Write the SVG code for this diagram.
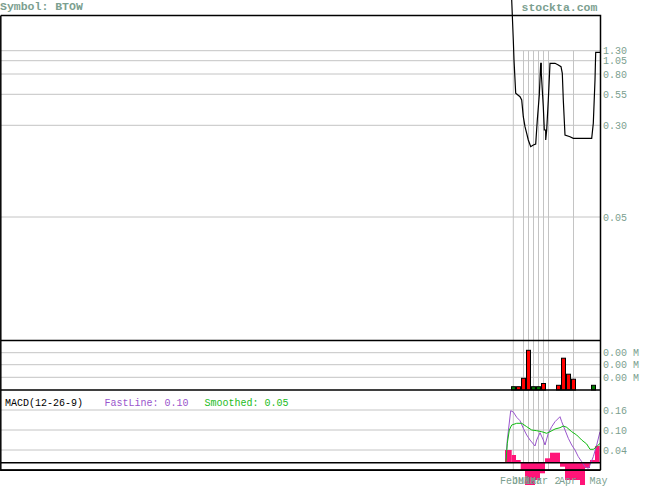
<svg xmlns="http://www.w3.org/2000/svg" width="655" height="486" viewBox="0 0 655 486">
<style>
.t{font-family:"Liberation Mono","DejaVu Sans Mono",monospace;font-size:10px;fill:#7c9f90}
.h{font-family:"Liberation Mono","DejaVu Sans Mono",monospace;font-size:11.5px;font-weight:bold;fill:#7c9f90}
.g{stroke:#c4c4c4;stroke-width:1;fill:none}
.b{stroke:#000;stroke-width:1.5;fill:none}
.vr{fill:#ff0000;stroke:#000;stroke-width:1}
.vg{fill:#007a00;stroke:#000;stroke-width:1}
.hist{fill:#ff1478}
</style>
<rect x="0" y="0" width="655" height="486" fill="#fff"/>
<text class="h" x="0" y="10">Symbol: BTOW</text>
<text class="h" x="521.5" y="11">stockta.com</text>
<g id="grid">
<path class="g" d="M1 50.7H600M1 60.7H600M1 74H600M1 94.3H600M1 125.3H600M1 217H600M1 352.7H600M1 364.7H600M1 377.3H600M1 410H600M1 430H600M1 450H600"/>
<path class="g" d="M513.3 50.7V470M523.5 50.7V470M528.5 50.7V470M533.5 50.7V470M538.5 50.7V470M543.5 50.7V470M548.5 50.7V470M573.5 50.7V470"/>
</g>
<g id="price-labels">
<text class="t" x="603" y="54">1.30</text>
<text class="t" x="603" y="64">1.05</text>
<text class="t" x="603" y="77.5">0.80</text>
<text class="t" x="603" y="98">0.55</text>
<text class="t" x="603" y="129">0.30</text>
<text class="t" x="603" y="221">0.05</text>
<text class="t" x="603" y="356">0.00 M</text>
<text class="t" x="603" y="368">0.00 M</text>
<text class="t" x="603" y="381">0.00 M</text>
<text class="t" x="603" y="414">0.16</text>
<text class="t" x="603" y="434">0.10</text>
<text class="t" x="603" y="453.5">0.04</text>
</g>
<g id="price">
<path d="M511.7 0L513.3 40L514 60L515.7 93.3L520 96.7L521.7 100L523.3 116.7L525 126.7L526.7 133.3L528.3 140L530.7 146.7L533.3 145L535.7 144L537.3 120L539.3 95L540.7 63.3L541.3 63.3L541.3 73.3L543.3 106.7L544.3 130L545.7 130L545.7 140L546.7 130L548.3 100L550 63.3L555 63.3L558.3 65L561 66.7L562.3 73.3L563.3 100L565 135L570 136.7L573.3 138.3L591.7 138.3L593.3 123.3L595 80L595.7 52.3L600 52.3" fill="none" stroke="#000" stroke-width="1.2"/>
</g>
<g id="volume">
<rect class="vg" x="511.5" y="386.7" width="4" height="3.3"/>
<rect class="vr" x="516.5" y="386.7" width="4" height="3.3"/>
<rect class="vr" x="521.5" y="378.3" width="4" height="11.7"/>
<rect class="vr" x="526.5" y="350.3" width="4" height="39.7"/>
<rect class="vg" x="531.5" y="386.7" width="4" height="3.3"/>
<rect class="vg" x="536.5" y="386.7" width="4" height="3.3"/>
<rect class="vr" x="541.5" y="383.5" width="4" height="6.5"/>
<rect class="vr" x="556.5" y="385.3" width="4" height="4.7"/>
<rect class="vr" x="561.5" y="358.2" width="4" height="31.8"/>
<rect class="vr" x="566.5" y="374.2" width="4" height="15.8"/>
<rect class="vr" x="571.5" y="379.2" width="4" height="10.8"/>
<rect class="vg" x="591.5" y="385.3" width="4" height="4.7"/>
</g>
<g id="macd-hist">
<rect class="hist" x="505" y="450" width="6.7" height="12.7"/>
<rect class="hist" x="511.7" y="455" width="4.3" height="7.7"/>
<rect class="hist" x="516" y="460" width="4.7" height="2.7"/>
<rect class="hist" x="520.7" y="462.7" width="4.3" height="7.3"/>
<rect class="hist" x="525" y="462.7" width="10" height="22.3"/>
<rect class="hist" x="535" y="462.7" width="5" height="17.3"/>
<rect class="hist" x="540" y="462.7" width="5" height="10.6"/>
<rect class="hist" x="545" y="458.3" width="5" height="4.4"/>
<rect class="hist" x="550" y="452.7" width="10" height="10"/>
<rect class="hist" x="560" y="462.7" width="5" height="4"/>
<rect class="hist" x="565" y="462.7" width="15" height="17.3"/>
<rect class="hist" x="580" y="462.7" width="5" height="22.3"/>
<rect class="hist" x="585" y="462.7" width="5" height="5.3"/>
<rect class="hist" x="590" y="460" width="5" height="2.7"/>
<rect class="hist" x="595" y="446" width="4.5" height="16.7"/>
</g>
<g id="macd-lines" fill="none" stroke-width="1">
<path stroke="#9955cc" d="M506 458.3L507.3 440L510.7 410.7L513.3 412L516.7 417.3L520 420.7L523.3 428.3L526.7 435L530 440L535 446L536.7 440L540 432.7L543.3 440L545 445L548.3 433.3L551.7 426.7L555 421.7L560 416.7L561.7 421.7L565 430L568.3 438.3L571.7 445L575 450L578.3 456.7L581.7 461.7L585 466.7L588.3 468.3L590 465L593.3 456.7L596.7 445L600 431.7"/>
<path stroke="#11bb11" d="M506 461.7L507.3 443.3L509.3 430L511.7 425L516.7 423.3L521.7 423.3L526.7 426.7L531.7 430L536.7 430.7L541.7 431.7L546.7 433.3L550 431.7L555 429L560 427.7L563.3 426L566.7 427.3L571.7 431.7L576.7 435L581.7 440L586.7 444L590 449.3L593.3 449.3L596.7 446.7L600 443.3"/>
</g>
<g id="frames">
<path class="b" d="M0.8 15.5H600.5V470M0.8 15.5V470.2H600.5M0.8 340.5H600.5M0.8 390H600.5M0.8 462.8H600.5"/>
<path d="M0.8 470H600.5" stroke="#000" stroke-width="1.5"/>
</g>
<text font-family="Liberation Mono,DejaVu Sans Mono,monospace" font-size="10" fill="#000" x="5" y="406">MACD(12-26-9)</text>
<text font-family="Liberation Mono,DejaVu Sans Mono,monospace" font-size="10" fill="#9955cc" x="104.5" y="406">FastLine: 0.10</text>
<text font-family="Liberation Mono,DejaVu Sans Mono,monospace" font-size="10" fill="#22bb22" x="204.5" y="406">Smoothed: 0.05</text>
<g id="dates">
<text class="t" x="500" y="484">Feb</text>
<text class="t" x="512" y="484">Jul</text>
<text class="t" x="518" y="484">Mar</text>
<text class="t" x="524" y="484">Mar</text>
<text class="t" x="530" y="484">Mar</text>
<text class="t" x="554.5" y="484">2</text>
<text class="t" x="559" y="484">Apr</text>
<text class="t" x="589.5" y="484">May</text>
</g>
</svg>
